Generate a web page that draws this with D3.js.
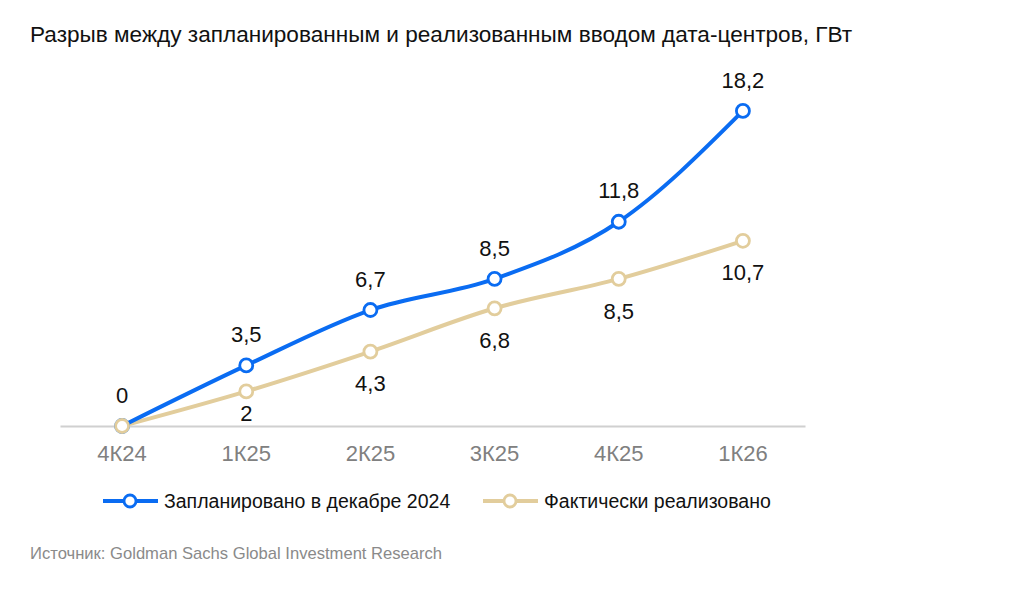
<!DOCTYPE html>
<html><head><meta charset="utf-8">
<script src="https://cdn.jsdelivr.net/npm/d3@7"></script>
<style>body{margin:0;background:#fff;} svg{display:block;font-family:"Liberation Sans",Arial,sans-serif;}</style>
</head><body>
<svg id="c" width="1024" height="591"></svg>
<script>
const title = "Разрыв между запланированным и реализованным вводом дата-центров, ГВт";
const source = "Источник: Goldman Sachs Global Investment Research";
const categories = ["4К24","1К25","2К25","3К25","4К25","1К26"];
const planned = [0, 3.5, 6.7, 8.5, 11.8, 18.2];
const actual = [0, 2, 4.3, 6.8, 8.5, 10.7];
const seriesNames = ["Запланировано в декабре 2024", "Фактически реализовано"];
const colors = ["#0a6cf2", "#e2cd9c"];

const svg = d3.select("#c");
const x = d3.scaleBand().domain(categories).range([60, 805]);
const y = d3.scaleLinear().domain([0, 20]).range([426, 79.8]);
const cx = d => x(d) + x.bandwidth()/2;
const fmt = v => String(v).replace(".", ",");

svg.append("text").attr("x", 30).attr("y", 42).attr("font-size", 22.6).attr("fill", "#111").text(title);

// axis
const ax = svg.append("g").attr("transform", "translate(0,426)").call(d3.axisBottom(x).tickSize(0).tickPadding(19));
ax.select(".domain").attr("stroke", "#d0d0d0").attr("stroke-width", 2);
ax.selectAll("text").attr("font-size", 22).attr("fill", "#808080").attr("font-family", "Liberation Sans, Arial, sans-serif");

const series = [planned, actual];
const line = d3.line().x((d,i) => cx(categories[i])).y(d => y(d)).curve(d3.curveMonotoneX);

[1,0].forEach(s => {
  svg.append("path").datum(series[s]).attr("d", line).attr("fill", "none")
    .attr("stroke", colors[s]).attr("stroke-width", 4).attr("stroke-linecap", "round");
});
[0,1].forEach(s => {
  svg.append("g").selectAll("circle").data(series[s]).join("circle")
    .attr("cx", (d,i) => cx(categories[i])).attr("cy", d => y(d)).attr("r", 6.5)
    .attr("fill", "#fff").attr("stroke", colors[s]).attr("stroke-width", 2.8);
});

// labels
svg.append("g").selectAll("text").data(planned).join("text")
  .attr("x", (d,i) => cx(categories[i])).attr("y", d => y(d) - 31)
  .attr("dy", "0.35em").attr("text-anchor", "middle").attr("font-size", 22).attr("fill", "#111")
  .text(d => fmt(d));
svg.append("g").selectAll("text").data(actual.map((v,i)=>({v,i})).filter(d => d.i > 0)).join("text")
  .attr("x", d => cx(categories[d.i])).attr("y", d => Math.min(y(d.v) + 32, y(0) - 13))
  .attr("dy", "0.35em").attr("text-anchor", "middle").attr("font-size", 22).attr("fill", "#111")
  .text(d => fmt(d.v));

// legend
const legX = [103, 483];
seriesNames.forEach((n, s) => {
  const g = svg.append("g").attr("transform", `translate(${legX[s]},501)`);
  g.append("line").attr("x1", 0).attr("x2", 55).attr("stroke", colors[s]).attr("stroke-width", 4);
  g.append("circle").attr("cx", 27).attr("r", 6).attr("fill", "#fff").attr("stroke", colors[s]).attr("stroke-width", 2.8);
  g.append("text").attr("x", 61).attr("dy", "0.35em").attr("font-size", 19.5).attr("fill", "#111").text(n);
});

svg.append("text").attr("x", 30).attr("y", 559).attr("font-size", 16.6).attr("fill", "#8a8a8a").text(source);
</script>
</body></html>
